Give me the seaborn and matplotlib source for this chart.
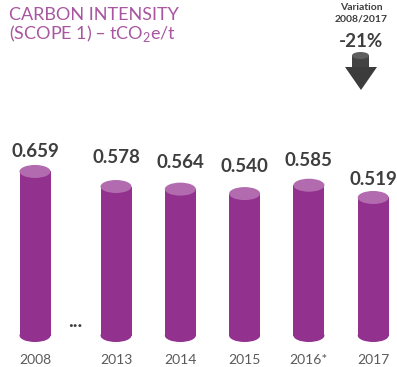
import matplotlib
matplotlib.use("Agg")
import matplotlib.pyplot as plt
from matplotlib.patches import Ellipse, Polygon, Rectangle
import numpy as np
import seaborn as sns

# Scope 1 carbon intensity, tCO2e per tonne
years = ["2008", "2013", "2014", "2015", "2016*", "2017"]
intensity = [0.659, 0.578, 0.564, 0.540, 0.585, 0.519]
variation_caption = ["Variation", "2008/2017"]
variation_value = "-21%"

sns.set_theme(style="white")
plt.rcParams["font.family"] = ["Lato", "DejaVu Sans"]

BODY = "#92318E"
TOP = "#B26BAF"
DARK = "#3E3E3E"
TICK = "#5A5A5A"
TITLE = "#A7569F"

W, H = 397, 367
fig = plt.figure(figsize=(W / 100, H / 100), dpi=100)
fig.patch.set_facecolor("white")

# layout (pixels)
step_px = 64.3          # spacing between consecutive years
first_px = 35           # centre of the first cylinder
gap = 1.26              # wider gap after 2008 for the ellipsis
base_px = 335.5         # centre of the cylinder bases
top_px = 100
scale_px = 186.0        # pixels per tCO2e/t
pedestal = 0.223        # cylinder base sits below the zero line
bar_w = 31 / step_px
ell_h = 13 / scale_px
label_gap_px = [8, 17, 15, 15, 13, 6]

pos = np.array([0.0] + [gap + i for i in range(len(years) - 1)])

ax = fig.add_axes([0, (H - base_px) / H, 1, (base_px - top_px) / H])
ax.patch.set_alpha(0)

sns.barplot(x=pos, y=intensity, native_scale=True, width=bar_w, color=BODY,
            saturation=1, linewidth=0, errorbar=None, ax=ax)
sns.barplot(x=pos, y=[-pedestal] * len(pos), native_scale=True, width=bar_w,
            color=BODY, saturation=1, linewidth=0, errorbar=None, ax=ax)

ax.set_xlim(-first_px / step_px, (W - first_px) / step_px)
ax.set_ylim(-pedestal, -pedestal + (base_px - top_px) / scale_px)

for x, v, g in zip(pos, intensity, label_gap_px):
    ax.add_patch(Ellipse((x, -pedestal), bar_w, ell_h, facecolor=BODY,
                         lw=0, clip_on=False, zorder=3))
    ax.add_patch(Ellipse((x, v), bar_w, ell_h, facecolor=TOP,
                         lw=0, clip_on=False, zorder=4))
    ax.text(x, v + ell_h / 2 + g / scale_px, f"{v:.3f}", ha="center",
            va="baseline", fontsize=13.5, fontweight="bold", color=DARK)

ax.set_xticks(pos, years)
ax.set_yticks([])
ax.tick_params(axis="x", length=0, pad=13, labelsize=10, labelcolor=TICK)
ax.set_xlabel("")
ax.set_ylabel("")
for s in ax.spines.values():
    s.set_visible(False)

# pixel-space overlay for title, variation badge and ellipsis
ov = fig.add_axes([0, 0, 1, 1])
ov.set_xlim(0, W)
ov.set_ylim(H, 0)
ov.axis("off")
ov.patch.set_alpha(0)

ov.text(9, 20, "CARBON INTENSITY", fontsize=13, color=TITLE,
        fontweight="normal", va="baseline")
ov.text(9, 39.5, r"(SCOPE 1) – tCO$_{\mathdefault{2}}$e/t", fontsize=13,
        color=TITLE, fontweight="normal", va="baseline")

ov.text(361, 10.5, variation_caption[0], fontsize=7.5, fontweight="bold",
        color=DARK, ha="center", va="baseline")
ov.text(361, 21, variation_caption[1], fontsize=7.5, fontweight="bold",
        color=DARK, ha="center", va="baseline")
ov.text(361, 47, variation_value, fontsize=13.5, fontweight="bold",
        color=DARK, ha="center", va="baseline")

ov.add_patch(Rectangle((352, 55.5), 17, 12, facecolor="#424242", lw=0))
ov.add_patch(Polygon([(345, 67), (377, 67), (361, 90)], closed=True,
                     facecolor="#3C3C3C", lw=0))
ov.add_patch(Ellipse((360.5, 55.5), 17, 7, facecolor="#5E5E5E", lw=0))

ov.text(75, 327, "...", fontsize=14, fontweight="bold", color=DARK,
        ha="center", va="baseline")

fig.savefig("out.png", dpi=100, facecolor="white")
